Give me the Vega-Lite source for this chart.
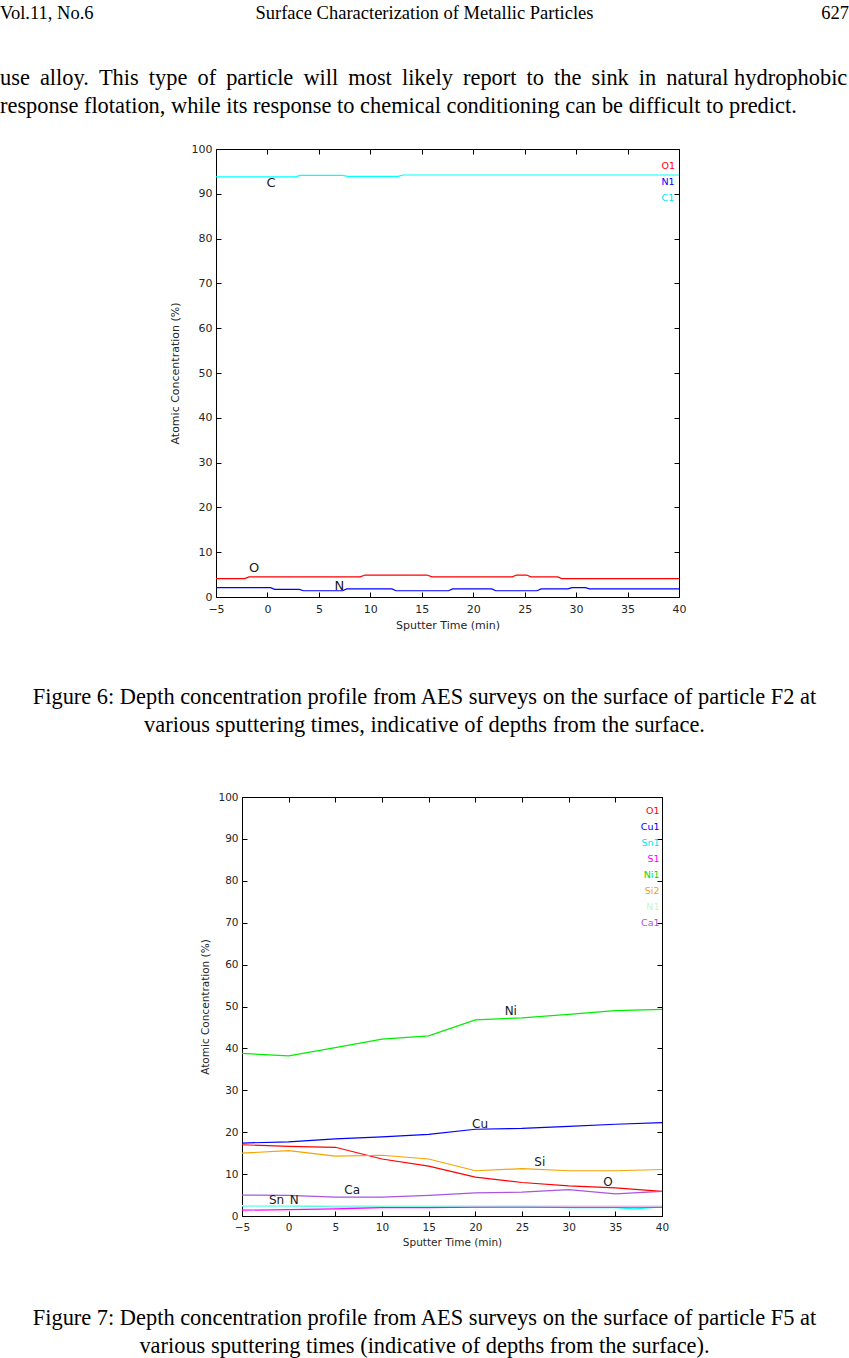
{
  "$schema": "https://vega.github.io/schema/vega-lite/v6.json",
  "padding": 0,
  "autosize": {"type": "pad"},
  "background": "white",
  "spacing": 0,
  "bounds": "flush",
  "resolve": {"scale": {"color": "independent"}, "legend": {"color": "independent"}},
  "config": {
    "view": {"stroke": null},
    "concat": {"spacing": 0},
    "axis": {
      "domainColor": "#000000", "domainWidth": 1, "tickColor": "#000000", "tickWidth": 1, "tickSize": -5,
      "grid": false, "labelFont": "DejaVu Sans", "titleFont": "DejaVu Sans", "labelColor": "#262626", "titleColor": "#262626",
      "labelFontSize": 11, "titleFontSize": 11, "titleFontWeight": "normal", "labelFlush": false, "labelOverlap": false
    }
  },
  "vconcat": [
    {
      "width": 849, "height": 26,
      "layer": [
        {"data": {"values": [{"t": "Vol.11, No.6"}]}, "mark": {"type": "text", "align": "left", "baseline": "middle", "font": "Liberation Serif", "fontSize": 18.5, "color": "#000000"}, "encoding": {"text": {"field": "t"}, "x": {"value": 0}}},
        {"data": {"values": [{"t": "Surface Characterization of Metallic Particles"}]}, "mark": {"type": "text", "align": "center", "baseline": "middle", "font": "Liberation Serif", "fontSize": 18.5, "color": "#000000"}, "encoding": {"text": {"field": "t"}}},
        {"data": {"values": [{"t": "627"}]}, "mark": {"type": "text", "align": "right", "baseline": "middle", "font": "Liberation Serif", "fontSize": 18.5, "color": "#000000"}, "encoding": {"text": {"field": "t"}, "x": {"value": "width"}}}
      ]
    },
    {"width": 849, "height": 38, "data": {"values": []}, "mark": "point"},
    {
      "width": 849, "height": 28,
      "data": {"values": [{"t": "use \u2009alloy. \u2009This \u2009type \u2009of \u2009particle \u2009will \u2009most \u2009likely \u2009report \u2009to \u2009the \u2009sink \u2009in \u2009natural hydrophobic\nresponse flotation, while its response to chemical conditioning can be difficult to predict."}]},
      "mark": {"type": "text", "align": "left", "baseline": "middle", "lineBreak": "\n", "lineHeight": 28, "font": "Liberation Serif", "fontSize": 22.4, "color": "#000000"},
      "encoding": {"text": {"field": "t"}, "x": {"value": 0}}
    },
    {"width": 849, "height": 57, "data": {"values": []}, "mark": "point"},
    {
      "width": 849, "height": 448,
      "layer": [
        {
          "data": {"values": [
            {"s": "O1", "t": -5, "v": 4.1}, {"s": "O1", "t": -2.2, "v": 4.1}, {"s": "O1", "t": -1.8, "v": 4.5}, {"s": "O1", "t": 9.0, "v": 4.5}, {"s": "O1", "t": 9.5, "v": 4.9}, {"s": "O1", "t": 15.5, "v": 4.9}, {"s": "O1", "t": 16.0, "v": 4.5}, {"s": "O1", "t": 23.8, "v": 4.5}, {"s": "O1", "t": 24.2, "v": 4.9}, {"s": "O1", "t": 25.2, "v": 4.9}, {"s": "O1", "t": 25.6, "v": 4.5}, {"s": "O1", "t": 28.2, "v": 4.5}, {"s": "O1", "t": 28.6, "v": 4.1}, {"s": "O1", "t": 40, "v": 4.1},
            {"s": "N1", "t": -5, "v": 2.1}, {"s": "N1", "t": 0.3, "v": 2.1}, {"s": "N1", "t": 0.7, "v": 1.7}, {"s": "N1", "t": 3.1, "v": 1.7}, {"s": "N1", "t": 3.5, "v": 1.4}, {"s": "N1", "t": 7.3, "v": 1.4}, {"s": "N1", "t": 7.7, "v": 1.8}, {"s": "N1", "t": 12.1, "v": 1.8}, {"s": "N1", "t": 12.5, "v": 1.4}, {"s": "N1", "t": 17.6, "v": 1.4}, {"s": "N1", "t": 18.0, "v": 1.8}, {"s": "N1", "t": 21.8, "v": 1.8}, {"s": "N1", "t": 22.2, "v": 1.4}, {"s": "N1", "t": 26.2, "v": 1.4}, {"s": "N1", "t": 26.6, "v": 1.8}, {"s": "N1", "t": 29.2, "v": 1.8}, {"s": "N1", "t": 29.6, "v": 2.1}, {"s": "N1", "t": 30.9, "v": 2.1}, {"s": "N1", "t": 31.3, "v": 1.8}, {"s": "N1", "t": 40, "v": 1.8},
            {"s": "C1", "t": -5, "v": 93.8}, {"s": "C1", "t": 2.7, "v": 93.8}, {"s": "C1", "t": 3.2, "v": 94.1}, {"s": "C1", "t": 7.3, "v": 94.1}, {"s": "C1", "t": 7.8, "v": 93.9}, {"s": "C1", "t": 12.7, "v": 93.9}, {"s": "C1", "t": 13.2, "v": 94.2}, {"s": "C1", "t": 40, "v": 94.2}
          ]},
          "mark": {"type": "line", "strokeWidth": 1.2},
          "encoding": {
            "x": {"field": "t", "type": "quantitative", "scale": {"domain": [-5, 40], "range": [216, 679], "nice": false, "zero": false},
              "axis": {"orient": "bottom", "values": [-5, 0, 5, 10, 15, 20, 25, 30, 35, 40], "title": "Sputter Time (min)", "labelPadding": 11, "titlePadding": 5}},
            "y": {"field": "v", "type": "quantitative", "scale": {"domain": [0, 100], "nice": false},
              "axis": {"orient": "left", "offset": -216, "values": [0, 10, 20, 30, 40, 50, 60, 70, 80, 90, 100], "title": "Atomic Concentration (%)", "labelPadding": 9, "titlePadding": 11}},
            "color": {"field": "s", "type": "nominal", "scale": {"domain": ["O1", "N1", "C1"], "range": ["#ff0000", "#0000ff", "#00ffff"]},
              "legend": {"orient": "none", "legendX": 652, "legendY": 12, "title": null, "symbolOpacity": 0, "symbolSize": 0, "symbolStrokeWidth": 0, "labelOffset": 0, "padding": 0, "rowPadding": 5, "labelFontSize": 9.5, "labelFont": "DejaVu Sans",
                "labelColor": {"expr": "datum.value === 'O1' ? '#ff0000' : datum.value === 'N1' ? '#0000ff' : '#00e5ee'"}}}
          }
        },
        {
          "data": {"values": [{"label": "C", "t": 0.35, "v": 92.4}, {"label": "O", "t": -1.3, "v": 6.5}, {"label": "N", "t": 7.0, "v": 2.5}]},
          "mark": {"type": "text", "font": "DejaVu Sans", "fontSize": 13, "color": "#1a1a1a"},
          "encoding": {
            "x": {"field": "t", "type": "quantitative", "axis": {"orient": "top", "labels": false, "title": null, "values": [-5, 0, 5, 10, 15, 20, 25, 30, 35, 40]}},
            "y": {"field": "v", "type": "quantitative", "axis": {"orient": "right", "offset": -170, "labels": false, "title": null, "values": [0, 10, 20, 30, 40, 50, 60, 70, 80, 90, 100]}},
            "text": {"field": "label"}
          }
        }
      ],
      "resolve": {"axis": {"x": "independent", "y": "independent"}}
    },
    {"width": 849, "height": 86, "data": {"values": []}, "mark": "point"},
    {
      "width": 849, "height": 28,
      "data": {"values": [{"t": "Figure 6: Depth concentration profile from AES surveys on the surface of particle F2 at\nvarious sputtering times, indicative of depths from the surface."}]},
      "mark": {"type": "text", "align": "center", "baseline": "middle", "lineBreak": "\n", "lineHeight": 28, "font": "Liberation Serif", "fontSize": 22.4, "color": "#000000"},
      "encoding": {"text": {"field": "t"}}
    },
    {"width": 849, "height": 86, "data": {"values": []}, "mark": "point"},
    {
      "width": 849, "height": 419,
      "layer": [
        {
          "data": {"values": [
            {"s": "O1", "t": -5, "v": 17.0}, {"s": "O1", "t": 0, "v": 16.6}, {"s": "O1", "t": 5, "v": 16.4}, {"s": "O1", "t": 10, "v": 13.6}, {"s": "O1", "t": 15, "v": 11.9}, {"s": "O1", "t": 20, "v": 9.3}, {"s": "O1", "t": 25, "v": 8.0}, {"s": "O1", "t": 30, "v": 7.2}, {"s": "O1", "t": 35, "v": 6.7}, {"s": "O1", "t": 40, "v": 5.9},
            {"s": "Cu1", "t": -5, "v": 17.4}, {"s": "Cu1", "t": 0, "v": 17.7}, {"s": "Cu1", "t": 5, "v": 18.4}, {"s": "Cu1", "t": 10, "v": 18.9}, {"s": "Cu1", "t": 15, "v": 19.5}, {"s": "Cu1", "t": 20, "v": 20.7}, {"s": "Cu1", "t": 25, "v": 20.9}, {"s": "Cu1", "t": 30, "v": 21.4}, {"s": "Cu1", "t": 35, "v": 21.9}, {"s": "Cu1", "t": 40, "v": 22.3},
            {"s": "Sn1", "t": -5, "v": 2.4}, {"s": "Sn1", "t": 0, "v": 2.4}, {"s": "Sn1", "t": 5, "v": 2.2}, {"s": "Sn1", "t": 10, "v": 2.2}, {"s": "Sn1", "t": 15, "v": 2.2}, {"s": "Sn1", "t": 20, "v": 2.2}, {"s": "Sn1", "t": 25, "v": 2.3}, {"s": "Sn1", "t": 30, "v": 2.0}, {"s": "Sn1", "t": 35, "v": 2.0}, {"s": "Sn1", "t": 37, "v": 1.7}, {"s": "Sn1", "t": 40, "v": 2.2},
            {"s": "S1", "t": -5, "v": 1.4}, {"s": "S1", "t": 0, "v": 1.5}, {"s": "S1", "t": 5, "v": 1.7}, {"s": "S1", "t": 10, "v": 2.0}, {"s": "S1", "t": 15, "v": 2.0}, {"s": "S1", "t": 20, "v": 2.1}, {"s": "S1", "t": 25, "v": 2.1}, {"s": "S1", "t": 30, "v": 2.1}, {"s": "S1", "t": 35, "v": 2.1}, {"s": "S1", "t": 40, "v": 2.1},
            {"s": "Ni1", "t": -5, "v": 38.8}, {"s": "Ni1", "t": 0, "v": 38.2}, {"s": "Ni1", "t": 5, "v": 40.2}, {"s": "Ni1", "t": 10, "v": 42.2}, {"s": "Ni1", "t": 15, "v": 43.0}, {"s": "Ni1", "t": 20, "v": 46.8}, {"s": "Ni1", "t": 25, "v": 47.3}, {"s": "Ni1", "t": 30, "v": 48.1}, {"s": "Ni1", "t": 35, "v": 49.0}, {"s": "Ni1", "t": 40, "v": 49.3},
            {"s": "Si2", "t": -5, "v": 15.0}, {"s": "Si2", "t": 0, "v": 15.6}, {"s": "Si2", "t": 5, "v": 14.3}, {"s": "Si2", "t": 10, "v": 14.5}, {"s": "Si2", "t": 15, "v": 13.6}, {"s": "Si2", "t": 20, "v": 10.8}, {"s": "Si2", "t": 25, "v": 11.3}, {"s": "Si2", "t": 30, "v": 10.8}, {"s": "Si2", "t": 35, "v": 10.8}, {"s": "Si2", "t": 40, "v": 11.1},
            {"s": "N1", "t": -5, "v": 2.5}, {"s": "N1", "t": 0, "v": 2.5}, {"s": "N1", "t": 5, "v": 2.4}, {"s": "N1", "t": 10, "v": 2.4}, {"s": "N1", "t": 15, "v": 2.4}, {"s": "N1", "t": 20, "v": 2.4}, {"s": "N1", "t": 25, "v": 2.4}, {"s": "N1", "t": 30, "v": 2.4}, {"s": "N1", "t": 35, "v": 2.4}, {"s": "N1", "t": 40, "v": 2.4},
            {"s": "Ca1", "t": -5, "v": 5.0}, {"s": "Ca1", "t": 0, "v": 4.9}, {"s": "Ca1", "t": 5, "v": 4.5}, {"s": "Ca1", "t": 10, "v": 4.5}, {"s": "Ca1", "t": 15, "v": 4.9}, {"s": "Ca1", "t": 20, "v": 5.5}, {"s": "Ca1", "t": 25, "v": 5.7}, {"s": "Ca1", "t": 30, "v": 6.3}, {"s": "Ca1", "t": 35, "v": 5.3}, {"s": "Ca1", "t": 40, "v": 5.9}
          ]},
          "mark": {"type": "line", "strokeWidth": 1.2},
          "encoding": {
            "x": {"field": "t", "type": "quantitative", "scale": {"domain": [-5, 40], "range": [242, 662], "nice": false, "zero": false},
              "axis": {"orient": "bottom", "values": [-5, 0, 5, 10, 15, 20, 25, 30, 35, 40], "title": "Sputter Time (min)", "labelPadding": 11, "titlePadding": 5, "labelFontSize": 10.5, "titleFontSize": 10.5}},
            "y": {"field": "v", "type": "quantitative", "scale": {"domain": [0, 100], "nice": false},
              "axis": {"orient": "left", "offset": -242, "values": [0, 10, 20, 30, 40, 50, 60, 70, 80, 90, 100], "title": "Atomic Concentration (%)", "labelPadding": 9, "titlePadding": 7, "labelFontSize": 10.5, "titleFontSize": 10.5}},
            "color": {"field": "s", "type": "nominal",
              "scale": {"domain": ["O1", "Cu1", "Sn1", "S1", "Ni1", "Si2", "N1", "Ca1"], "range": ["#ff0000", "#0000ff", "#00ffff", "#ff00ff", "#00ee00", "#f5a300", "#c8f5c8", "#a855e0"]},
              "legend": {"orient": "none", "legendX": 650, "legendY": 9, "title": null, "symbolOpacity": 0, "symbolSize": 0, "symbolStrokeWidth": 0, "labelOffset": 0, "padding": 0, "rowPadding": 5, "labelFontSize": 9.5, "labelFont": "DejaVu Sans", "labelAlign": "right",
                "labelColor": {"expr": "datum.value === 'O1' ? '#ff0000' : datum.value === 'Cu1' ? '#0000ff' : datum.value === 'Sn1' ? '#00e5ee' : datum.value === 'S1' ? '#ff00ff' : datum.value === 'Ni1' ? '#00dd00' : datum.value === 'Si2' ? '#f5a300' : datum.value === 'N1' ? '#c8f5c8' : '#a855e0'"}}}
          }
        },
        {
          "data": {"values": [{"label": "Ni", "t": 23.8, "v": 48.9}, {"label": "Cu", "t": 20.5, "v": 22.0}, {"label": "Si", "t": 26.9, "v": 12.8}, {"label": "O", "t": 34.2, "v": 8.2}, {"label": "Ca", "t": 6.8, "v": 6.1}, {"label": "Sn", "t": -1.3, "v": 3.7}, {"label": "N", "t": 0.6, "v": 3.7}]},
          "mark": {"type": "text", "font": "DejaVu Sans", "fontSize": 12, "color": "#1a1a1a"},
          "encoding": {
            "x": {"field": "t", "type": "quantitative", "axis": {"orient": "top", "labels": false, "title": null, "values": [-5, 0, 5, 10, 15, 20, 25, 30, 35, 40]}},
            "y": {"field": "v", "type": "quantitative", "axis": {"orient": "right", "offset": -187, "labels": false, "title": null, "values": [0, 10, 20, 30, 40, 50, 60, 70, 80, 90, 100]}},
            "text": {"field": "label"}
          }
        }
      ],
      "resolve": {"axis": {"x": "independent", "y": "independent"}}
    },
    {"width": 849, "height": 88, "data": {"values": []}, "mark": "point"},
    {
      "width": 849, "height": 28,
      "data": {"values": [{"t": "Figure 7: Depth concentration profile from AES surveys on the surface of particle F5 at\nvarious sputtering times (indicative of depths from the surface)."}]},
      "mark": {"type": "text", "align": "center", "baseline": "middle", "lineBreak": "\n", "lineHeight": 28, "font": "Liberation Serif", "fontSize": 22.4, "color": "#000000"},
      "encoding": {"text": {"field": "t"}}
    }
  ]
}
